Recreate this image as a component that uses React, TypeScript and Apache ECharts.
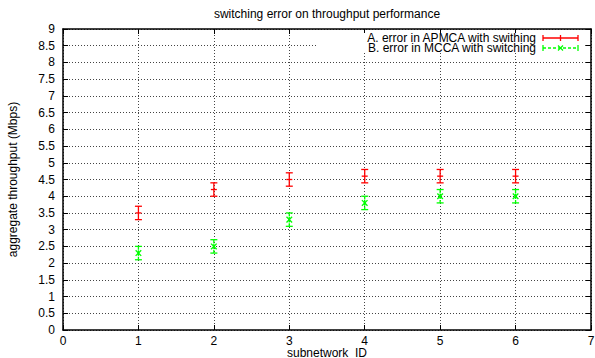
import React, { useEffect, useRef } from "react";
import * as echarts from "echarts";

const subnetworks = [1, 2, 3, 4, 5, 6];
const apmcaMean = [3.5, 4.2, 4.5, 4.6, 4.6, 4.6];
const apmcaLow = [3.3, 4.0, 4.3, 4.4, 4.4, 4.4];
const apmcaHigh = [3.7, 4.4, 4.7, 4.8, 4.8, 4.8];
const mccaMean = [2.3, 2.5, 3.3, 3.8, 4.0, 4.0];
const mccaLow = [2.1, 2.3, 3.1, 3.6, 3.8, 3.8];
const mccaHigh = [2.5, 2.7, 3.5, 4.0, 4.2, 4.2];

const seriesNames = ["A. error in APMCA with swithing", "B. error in MCCA with switching"];
const titleText = "switching error on throughput performance";
const xName = "subnetwork_ID";
const yName = "aggregate throughput (Mbps)";

const FONT = "'Liberation Sans', Arial, Helvetica, sans-serif";
const RED = "#ff0000";
const GREEN = "#00ff00";
const FS = 12;

function makeRender(color: string, dashed: boolean, marker: "plus" | "cross") {
  return (params: any, api: any) => {
    const x = api.value(0);
    const lo = api.value(1);
    const hi = api.value(2);
    const mid = api.value(3);
    const pLo = api.coord([x, lo]);
    const pHi = api.coord([x, hi]);
    const pMid = api.coord([x, mid]);
    const cw = 3.5;
    const style: any = { stroke: color, lineWidth: 1.3, fill: null };
    if (dashed) style.lineDash = [3, 2];
    const solid: any = { stroke: color, lineWidth: 1.3, fill: null };
    const children: any[] = [
      { type: "line", shape: { x1: pLo[0], y1: pLo[1], x2: pHi[0], y2: pHi[1] }, style },
      { type: "line", shape: { x1: pHi[0] - cw, y1: pHi[1], x2: pHi[0] + cw, y2: pHi[1] }, style: solid },
      { type: "line", shape: { x1: pLo[0] - cw, y1: pLo[1], x2: pLo[0] + cw, y2: pLo[1] }, style: solid },
    ];
    if (marker === "plus") {
      children.push({ type: "line", shape: { x1: pMid[0] - 3, y1: pMid[1], x2: pMid[0] + 3, y2: pMid[1] }, style: solid });
    } else {
      const s = 2.8;
      children.push({ type: "line", shape: { x1: pMid[0] - s, y1: pMid[1] - s, x2: pMid[0] + s, y2: pMid[1] + s }, style: solid });
      children.push({ type: "line", shape: { x1: pMid[0] - s, y1: pMid[1] + s, x2: pMid[0] + s, y2: pMid[1] - s }, style: solid });
      children.push({ type: "line", shape: { x1: pMid[0], y1: pMid[1] - s, x2: pMid[0], y2: pMid[1] + s }, style: solid });
    }
    return { type: "group", children };
  };
}

export default function App() {
  const ref = useRef<HTMLDivElement>(null);
  useEffect(() => {
    if (!ref.current) return;
    const chart = echarts.init(ref.current, null, { renderer: "svg" });
    const splitLine = { show: true, lineStyle: { color: "#444", width: 1, type: [1, 2] as any } };
    const axisLine = { show: true, onZero: false, lineStyle: { color: "#000", width: 1.5 } };
    const tickIn = { show: true, inside: true, length: 5, lineStyle: { color: "#000", width: 1 } };
    const labelStyle = { color: "#000", fontSize: FS, fontFamily: FONT, lineHeight: 12 };
    chart.setOption({
      animation: false,
      backgroundColor: "#fff",
      grid: { left: 63, right: 4, top: 29, bottom: 28, containLabel: false, outerBoundsMode: "none" },
      xAxis: [
        {
          type: "value",
          min: 0,
          max: 7,
          interval: 1,
          name: xName,
          nameLocation: "middle",
          nameGap: 17,
          nameMoveOverlap: false,
          nameTextStyle: { fontSize: FS, color: "#000", fontFamily: FONT, lineHeight: 12 },
          axisLine,
          axisTick: tickIn,
          axisLabel: { ...labelStyle, margin: 5 },
          splitLine,
        },
        {
          type: "value",
          position: "top",
          min: 0,
          max: 7,
          interval: 1,
          axisLine,
          axisTick: tickIn,
          axisLabel: { show: false },
          splitLine: { show: false },
        },
      ],
      yAxis: [
        {
          type: "value",
          min: 0,
          max: 9,
          interval: 0.5,
          name: yName,
          nameLocation: "middle",
          nameGap: 44,
          nameRotate: 90,
          nameMoveOverlap: false,
          nameTextStyle: { fontSize: FS, color: "#000", fontFamily: FONT },
          axisLine,
          axisTick: tickIn,
          axisLabel: { ...labelStyle, margin: 8 },
          splitLine,
        },
        {
          type: "value",
          position: "right",
          min: 0,
          max: 9,
          interval: 0.5,
          axisLine,
          axisTick: tickIn,
          axisLabel: { show: false },
          splitLine: { show: false },
        },
      ],
      series: [
        {
          type: "custom",
          name: seriesNames[0],
          renderItem: makeRender(RED, false, "plus"),
          encode: { x: 0, y: [1, 2, 3] },
          data: subnetworks.map((s, i) => [s, apmcaLow[i], apmcaHigh[i], apmcaMean[i]]),
          z: 10,
        },
        {
          type: "custom",
          name: seriesNames[1],
          renderItem: makeRender(GREEN, true, "cross"),
          encode: { x: 0, y: [1, 2, 3] },
          data: subnetworks.map((s, i) => [s, mccaLow[i], mccaHigh[i], mccaMean[i]]),
          z: 10,
        },
      ],
      graphic: [
        {
          type: "text",
          z: 101,
          x: 327,
          y: 14,
          style: { text: titleText, align: "center", verticalAlign: "middle", fontSize: FS, fill: "#000", fontFamily: FONT },
        },
        { type: "rect", z: 100, shape: { x: 316, y: 33, width: 268, height: 20 }, style: { fill: "#fff" } },
        {
          type: "text",
          z: 101,
          x: 536,
          y: 43,
          style: {
            text: seriesNames[0] + "\n" + seriesNames[1],
            align: "right",
            verticalAlign: "middle",
            lineHeight: 10,
            fontSize: FS,
            fill: "#000",
            fontFamily: FONT,
          },
        },
        { type: "line", z: 101, shape: { x1: 543, y1: 38, x2: 578, y2: 38 }, style: { stroke: RED, lineWidth: 1.3 } },
        { type: "line", z: 101, shape: { x1: 543, y1: 35, x2: 543, y2: 41 }, style: { stroke: RED, lineWidth: 1.3 } },
        { type: "line", z: 101, shape: { x1: 578, y1: 35, x2: 578, y2: 41 }, style: { stroke: RED, lineWidth: 1.3 } },
        { type: "line", z: 101, shape: { x1: 560.5, y1: 35, x2: 560.5, y2: 41 }, style: { stroke: RED, lineWidth: 1.3 } },
        { type: "line", z: 101, shape: { x1: 543, y1: 48, x2: 578, y2: 48 }, style: { stroke: GREEN, lineWidth: 1.3, lineDash: [3, 2] } },
        { type: "line", z: 101, shape: { x1: 543, y1: 45, x2: 543, y2: 51 }, style: { stroke: GREEN, lineWidth: 1.3 } },
        { type: "line", z: 101, shape: { x1: 578, y1: 45, x2: 578, y2: 51 }, style: { stroke: GREEN, lineWidth: 1.3 } },
        { type: "line", z: 101, shape: { x1: 558, y1: 45.5, x2: 563, y2: 50.5 }, style: { stroke: GREEN, lineWidth: 1.3 } },
        { type: "line", z: 101, shape: { x1: 558, y1: 50.5, x2: 563, y2: 45.5 }, style: { stroke: GREEN, lineWidth: 1.3 } },
      ],
    });
    return () => chart.dispose();
  }, []);
  return <div ref={ref} style={{ position: "fixed", left: 0, top: 0, width: 595, height: 358 }} />;
}
